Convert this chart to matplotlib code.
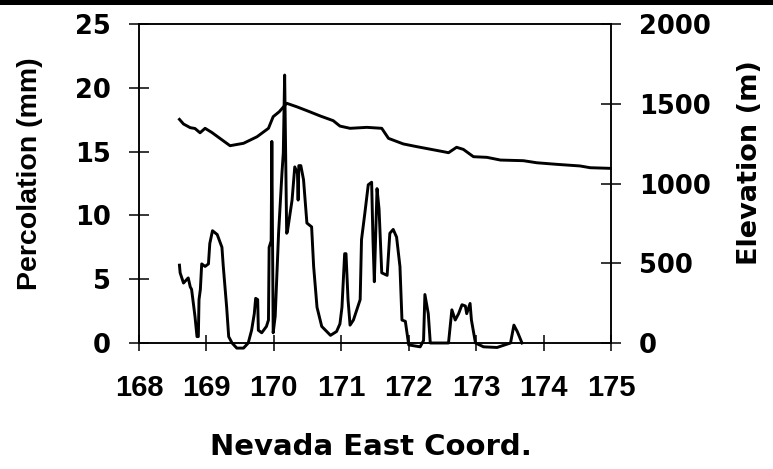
import matplotlib
matplotlib.use('Agg')
import matplotlib.pyplot as plt
from matplotlib.patches import Rectangle

plt.rcParams['font.family'] = ['Liberation Sans', 'DejaVu Sans']
plt.rcParams['font.weight'] = 'bold'

# percolation (left axis, mm) along Nevada East coordinate
perc_x = [168.60, 168.61, 168.66, 168.73, 168.76, 168.78, 168.83, 168.86, 168.88, 168.89,
          168.91, 168.93, 168.98, 169.03, 169.05, 169.09, 169.16, 169.23, 169.25, 169.30,
          169.33, 169.38, 169.45, 169.55, 169.62, 169.67, 169.71, 169.73, 169.76, 169.77,
          169.82, 169.89, 169.92, 169.93, 169.96, 169.97, 169.99, 170.02, 170.07, 170.12,
          170.14, 170.16, 170.19, 170.20, 170.27, 170.31, 170.35, 170.36, 170.37, 170.40,
          170.44, 170.49, 170.56, 170.59, 170.64, 170.71, 170.84, 170.93, 170.98, 171.01,
          171.05, 171.07, 171.10, 171.13, 171.18, 171.28, 171.30, 171.35, 171.40, 171.45,
          171.47, 171.49, 171.53, 171.56, 171.60, 171.68, 171.72, 171.77, 171.82, 171.87,
          171.90, 171.95, 172.00, 172.17, 172.22, 172.24, 172.29, 172.32, 172.59, 172.64,
          172.69, 172.74, 172.79, 172.84, 172.86, 172.91, 172.93, 172.99, 173.11, 173.31,
          173.51, 173.56, 173.61, 173.68]
perc_mm = [6.1, 5.5, 4.7, 5.1, 4.4, 4.2, 2.1, 0.5, 0.5, 3.4,
           4.2, 6.2, 6.0, 6.2, 7.8, 8.8, 8.5, 7.5, 6.0, 2.8,
           0.5, 0.0, -0.4, -0.4, 0.0, 1.0, 2.3, 3.5, 3.4, 1.0,
           0.8, 1.3, 1.8, 7.5, 8.0, 15.8, 0.8, 2.1, 8.6, 13.3,
           14.9, 21.0, 8.6, 8.7, 11.2, 13.8, 13.3, 11.2, 13.9, 13.9,
           12.8, 9.4, 9.1, 6.0, 2.8, 1.3, 0.6, 0.9, 1.5, 2.8,
           7.0, 7.0, 3.4, 1.4, 1.8, 3.4, 8.1, 10.2, 12.4, 12.6,
           8.1, 4.8, 12.1, 10.5, 5.5, 5.3, 8.6, 8.9, 8.3, 6.0,
           1.8, 1.7, -0.15, -0.3, 0.2, 3.8, 2.3, 0.0, 0.0, 2.6,
           1.8, 2.3, 3.0, 2.9, 2.3, 3.1, 1.8, 0.0, -0.3, -0.35,
           0.0, 1.4, 0.9, 0.0]

# elevation (right axis, m)
elev_x = [168.60, 168.66, 168.76, 168.83, 168.905, 168.98, 169.08, 169.20, 169.35, 169.55,
          169.75, 169.92, 169.99, 170.08, 170.19, 170.34, 170.50, 170.69, 170.88, 170.98,
          171.13, 171.38, 171.60, 171.70, 171.92, 172.12, 172.52, 172.59, 172.71, 172.81,
          172.96, 173.16, 173.36, 173.70, 173.90, 174.20, 174.54, 174.69, 174.99]
elev_m = [1402, 1373, 1350, 1345, 1318, 1346, 1320, 1283, 1237, 1252,
          1293, 1346, 1419, 1450, 1503, 1481, 1455, 1423, 1394, 1360,
          1346, 1352, 1346, 1283, 1248, 1231, 1199, 1193, 1227, 1214,
          1168, 1164, 1147, 1143, 1130, 1120, 1110, 1099, 1095]

x_ticks = [168, 169, 170, 171, 172, 173, 174, 175]
left_ticks = [0, 5, 10, 15, 20, 25]
right_ticks = [0, 500, 1000, 1500, 2000]

fig = plt.figure(figsize=(7.73, 4.69), dpi=100)
ax = fig.add_axes([139/773, 1-343/469, (611-139)/773, (343-24)/469])
ax2 = ax.twinx()

ax.plot(perc_x, perc_mm, color='black', lw=2.1, clip_on=False)
ax2.plot(elev_x, elev_m, color='black', lw=2.1, clip_on=False)

ax.set_xlim(168, 175)
ax.set_ylim(0, 25)
ax2.set_ylim(0, 2000)
ax.set_xticks(x_ticks)
ax.set_xticklabels([str(t) for t in x_ticks], fontsize=21)
ax.set_yticks(left_ticks)
ax2.set_yticks(right_ticks)

for a in (ax, ax2):
    for s in a.spines.values():
        s.set_linewidth(1.1)

ax.tick_params(axis='x', direction='inout', length=12, width=1.1, pad=16)
ax.tick_params(axis='y', direction='inout', length=14, width=1.1, pad=13)
ax2.tick_params(axis='y', direction='inout', length=14, width=1.1, pad=13)
for lbl in ax.get_yticklabels() + ax2.get_yticklabels():
    lbl.set_family(['DejaVu Sans'])
    lbl.set_fontsize(18.5)

fig.text(30/773, 1-174/469, 'Percolation (mm)', rotation=90, ha='center', va='center',
         fontsize=20.5)
fig.text(750/773, 1-163/469, 'Elevation (m)', rotation=90, ha='center', va='center',
         fontsize=19.5, family=['DejaVu Sans'])
fig.text(371/773, 1-455/469, 'Nevada East Coord.', ha='center', va='baseline',
         fontsize=21, family=['DejaVu Sans'])

# dark scan band along the top edge
fig.patches.append(Rectangle((0, 1-5/469), 1, 5/469, transform=fig.transFigure,
                             facecolor='black', edgecolor='none'))

fig.savefig('out.png', dpi=100)
